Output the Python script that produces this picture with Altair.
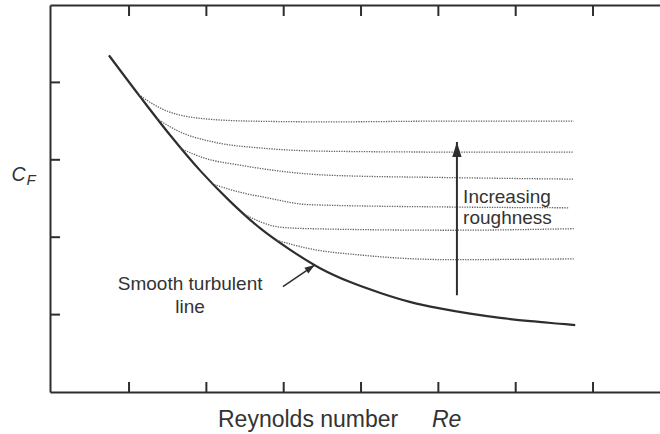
import altair as alt
import pandas as pd

# ---------------- data ----------------
# smooth turbulent line
smooth_re = [0.74, 1.14, 1.53, 1.92, 2.31, 2.69, 3.08, 3.47, 3.86, 4.25, 4.63, 5.02, 5.41, 5.80, 6.19, 6.57, 6.77]
smooth_cf = [4.35, 3.82, 3.32, 2.86, 2.46, 2.12, 1.84, 1.60, 1.42, 1.28, 1.165, 1.08, 1.012, 0.958, 0.915, 0.882, 0.865]

# rough-wall curves (top = roughest)
rough1_re = [1.10, 1.40, 1.88, 2.56, 3.60, 5.15, 6.75]
rough1_cf = [3.86, 3.67, 3.54, 3.50, 3.49, 3.50, 3.50]
rough2_re = [1.36, 1.66, 2.09, 2.73, 3.60, 5.15, 6.75]
rough2_cf = [3.53, 3.36, 3.23, 3.15, 3.11, 3.10, 3.10]
rough3_re = [1.66, 1.98, 2.44, 3.60, 5.15, 6.75]
rough3_cf = [3.15, 3.02, 2.93, 2.80, 2.77, 2.75]
rough4_re = [2.07, 2.44, 2.73, 3.34, 5.15, 6.68]
rough4_cf = [2.69, 2.58, 2.52, 2.42, 2.39, 2.38]
rough5_re = [2.50, 2.95, 3.34, 5.15, 6.75]
rough5_cf = [2.29, 2.13, 2.11, 2.09, 2.11]
rough6_re = [2.91, 3.34, 3.99, 5.15, 6.75]
rough6_cf = [1.96, 1.85, 1.77, 1.71, 1.72]

# axis tick positions
x_ticks = [1, 2, 3, 4, 5, 6, 7]
y_ticks = [1, 2, 3, 4]

# annotations
rough_label = ["Increasing", "roughness"]
rough_label_re = [5.32, 5.32]
rough_label_cf = [2.44, 2.17]
smooth_label = ["Smooth turbulent", "line"]
smooth_label_re = [1.79, 1.79]
smooth_label_cf = [1.32, 1.02]

rough_arrow_re = [5.24]
rough_arrow_from = [1.25]
rough_arrow_to = [3.23]
smooth_arrow_re_from = [2.99]
smooth_arrow_cf_from = [1.36]
smooth_arrow_re_to = [3.40]
smooth_arrow_cf_to = [1.64]

# ---------------- tables ----------------
FONT = "Liberation Sans"
INK = "#2e2e2e"

xs = alt.Scale(domain=[-0.022, 7.866], nice=False, zero=False)
ys = alt.Scale(domain=[0, 5.0], nice=False, zero=False)

smooth_df = pd.DataFrame({"re": smooth_re, "cf": smooth_cf, "o": range(len(smooth_re))})

rows = []
for k, (rx, ry) in enumerate([(rough1_re, rough1_cf), (rough2_re, rough2_cf), (rough3_re, rough3_cf),
                              (rough4_re, rough4_cf), (rough5_re, rough5_cf), (rough6_re, rough6_cf)]):
    for i, (a, b) in enumerate(zip(rx, ry)):
        rows.append({"s": k, "re": a, "cf": b, "o": i})
rough_df = pd.DataFrame(rows)

xt_df = pd.DataFrame({"t": x_ticks})
yt_df = pd.DataFrame({"t": y_ticks})

frame_axis = dict(domain=True, domainColor=INK, domainWidth=2, ticks=False, labels=False,
                  title=None, grid=False)

# ---------------- layers ----------------
smooth = alt.Chart(smooth_df).mark_line(color=INK, strokeWidth=2.2, interpolate="monotone").encode(
    x=alt.X("re:Q", scale=xs, axis=alt.Axis(orient="bottom", **frame_axis)),
    y=alt.Y("cf:Q", scale=ys, axis=alt.Axis(orient="left", **frame_axis)),
    order="o:Q",
)

rough = alt.Chart(rough_df).mark_line(color="#505050", strokeWidth=1.3, strokeDash=[1.3, 1.2],
                                      interpolate="monotone", opacity=0.9).encode(
    x=alt.X("re:Q", scale=xs, axis=alt.Axis(orient="top", **frame_axis)),
    y=alt.Y("cf:Q", scale=ys, axis=None),
    detail="s:N",
    order="o:Q",
)

bottom_ticks = alt.Chart(xt_df).mark_rule(color=INK, strokeWidth=2).encode(
    x=alt.X("t:Q", scale=xs, axis=None), y=alt.value(387), y2=alt.value(377))
top_ticks = alt.Chart(xt_df).mark_rule(color=INK, strokeWidth=2).encode(
    x=alt.X("t:Q", scale=xs, axis=None), y=alt.value(0), y2=alt.value(11))
left_ticks = alt.Chart(yt_df).mark_rule(color=INK, strokeWidth=2).encode(
    y=alt.Y("t:Q", scale=ys, axis=None), x=alt.value(0), x2=alt.value(10))

# arrows
ra_df = pd.DataFrame({"x": rough_arrow_re, "y0": rough_arrow_from, "y1": rough_arrow_to})
rough_arrow = alt.Chart(ra_df).mark_rule(color=INK, strokeWidth=2).encode(
    x=alt.X("x:Q", scale=xs, axis=None), y=alt.Y("y0:Q", scale=ys, axis=None), y2="y1:Q")
rough_head = alt.Chart(ra_df).mark_point(shape="M0,0L0.62,2L-0.62,2Z", filled=True, size=225,
                                         color=INK, opacity=1, strokeWidth=0).encode(
    x=alt.X("x:Q", scale=xs, axis=None), y=alt.Y("y1:Q", scale=ys, axis=None))

sa_df = pd.DataFrame({"x0": smooth_arrow_re_from, "y0": smooth_arrow_cf_from,
                      "x1": smooth_arrow_re_to, "y1": smooth_arrow_cf_to})
smooth_arrow = alt.Chart(sa_df).mark_rule(color=INK, strokeWidth=1.5).encode(
    x=alt.X("x0:Q", scale=xs, axis=None), y=alt.Y("y0:Q", scale=ys, axis=None),
    x2="x1:Q", y2="y1:Q")
smooth_head = alt.Chart(sa_df).mark_point(shape="M0,0L0.7,2L-0.7,2Z", filled=True, size=100,
                                          angle=55.6, color=INK, opacity=1, strokeWidth=0).encode(
    x=alt.X("x1:Q", scale=xs, axis=None), y=alt.Y("y1:Q", scale=ys, axis=None))

# annotation texts
rl_df = pd.DataFrame({"t": rough_label, "x": rough_label_re, "y": rough_label_cf})
rough_text = alt.Chart(rl_df).mark_text(align="left", baseline="alphabetic", font=FONT,
                                        fontSize=19, color="#333333").encode(
    x=alt.X("x:Q", scale=xs, axis=None), y=alt.Y("y:Q", scale=ys, axis=None), text="t:N")
sl_df = pd.DataFrame({"t": smooth_label, "x": smooth_label_re, "y": smooth_label_cf})
smooth_text = alt.Chart(sl_df).mark_text(align="center", baseline="alphabetic", font=FONT,
                                         fontSize=19, color="#333333").encode(
    x=alt.X("x:Q", scale=xs, axis=None), y=alt.Y("y:Q", scale=ys, axis=None), text="t:N")

# axis titles
x_title = ["Reynolds number"]
x_symbol = ["Re"]
y_symbol = ["C"]
y_sub = ["F"]

def label(txt, x, y, size, italic):
    kw = dict(align="left", baseline="alphabetic", font=FONT, fontSize=size, color="#333333")
    if italic:
        kw["fontStyle"] = "italic"
    return alt.Chart(pd.DataFrame({"t": txt})).mark_text(**kw).encode(
        x=alt.value(x), y=alt.value(y), text="t:N")

titles = [
    label(x_title, 168, 421.5, 23, False),
    label(x_symbol, 382, 421.5, 23, True),
    label(y_symbol, -38.5, 176, 19.5, True),
    label(y_sub, -23.5, 180, 15, True),
]

chart = alt.layer(
    smooth, rough, bottom_ticks, top_ticks, left_ticks,
    rough_arrow, rough_head, smooth_arrow, smooth_head,
    rough_text, smooth_text, *titles,
).resolve_axis(x="independent", y="independent").properties(
    width=610, height=387,
    padding={"left": 50, "top": 5, "right": 0, "bottom": 42},
    autosize=alt.AutoSizeParams(type="none"),
).configure_view(stroke=None)

chart.save("out.html", embed_options={"renderer": "svg", "actions": False})
